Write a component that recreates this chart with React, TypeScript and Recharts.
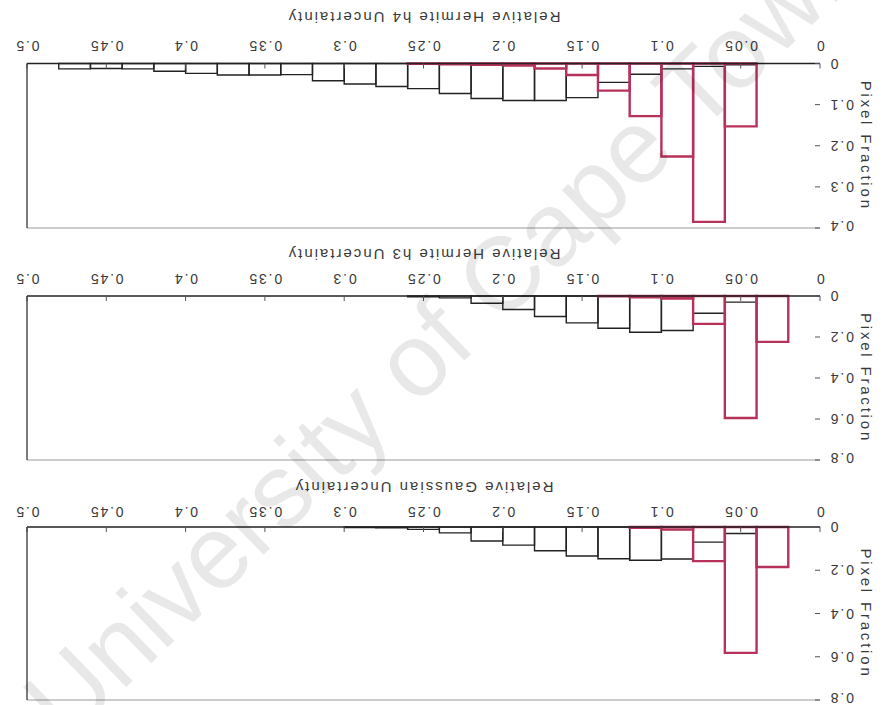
import React from 'react';
import { ComposedChart, XAxis, YAxis, ReferenceArea } from 'recharts';

// left edge of every 0.02-wide histogram bin
const binStarts = [
  0.02, 0.04, 0.06, 0.08, 0.1, 0.12, 0.14, 0.16, 0.18, 0.2, 0.22, 0.24,
  0.26, 0.28, 0.3, 0.32, 0.34, 0.36, 0.38, 0.4, 0.42, 0.44, 0.46,
];
const BIN = 0.02;

// pixel fractions per bin (black = first method, red = second method)
const gaussBlack = [
  0, 0.03, 0.07, 0.148, 0.154, 0.147, 0.134, 0.11, 0.084, 0.065, 0.027, 0.011,
  0.004, 0.002, 0, 0, 0, 0, 0, 0, 0, 0, 0,
];
const gaussRed = [
  0.185, 0.582, 0.158, 0.012, 0.004, 0, 0, 0, 0, 0, 0, 0,
  0, 0, 0, 0, 0, 0, 0, 0, 0, 0, 0,
];
const h3Black = [
  0, 0.03, 0.084, 0.168, 0.177, 0.157, 0.131, 0.1, 0.066, 0.035, 0.009, 0.004,
  0, 0, 0, 0, 0, 0, 0, 0, 0, 0, 0,
];
const h3Red = [
  0.224, 0.595, 0.136, 0.012, 0.006, 0.002, 0, 0, 0, 0, 0, 0,
  0, 0, 0, 0, 0, 0, 0, 0, 0, 0, 0,
];
const h4Black = [
  0, 0.003, 0.007, 0.013, 0.026, 0.046, 0.083, 0.09, 0.09, 0.085, 0.073, 0.061,
  0.056, 0.05, 0.042, 0.027, 0.028, 0.028, 0.024, 0.019, 0.013, 0.012, 0.013,
];
const h4Red = [
  0, 0.153, 0.385, 0.226, 0.128, 0.066, 0.028, 0.012, 0.005, 0.003, 0.002, 0.001,
  0, 0, 0, 0, 0, 0, 0, 0, 0, 0, 0,
];

const xTicks = [0, 0.05, 0.1, 0.15, 0.2, 0.25, 0.3, 0.35, 0.4, 0.45, 0.5];
const yTicksSmall = [0, 0.1, 0.2, 0.3, 0.4];
const yTicksLarge = [0, 0.2, 0.4, 0.6, 0.8];

const W = 884;
const H = 705;
const LEFT = 64;
const RIGHT_GAP = 27;
const PAD_TOP = 6;
const AXIS_H = 60;
const FONT = '"Liberation Sans", Arial, sans-serif';
const BLACK = '#222';
const RED = '#b8315a';

const tickText = { fontSize: 14, fill: '#3a3a3a', fontFamily: FONT, letterSpacing: 1.8 };

interface PanelProps {
  top: number;
  plotH: number;
  yMax: number;
  yTicks: number[];
  black: number[];
  red: number[];
  title: string;
  tickGap: number;
  titleGap: number;
}

const Panel: React.FC<PanelProps> = ({ top, plotH, yMax, yTicks, black, red, title, tickGap, titleGap }) => {
  const rows = binStarts.map((x0, i) => ({ x: x0 + BIN / 2, black: black[i], red: red[i] }));
  return (
    <div style={{ position: 'absolute', left: 0, top: top - PAD_TOP }}>
      <ComposedChart
        width={W}
        height={PAD_TOP + plotH + AXIS_H}
        data={rows}
        margin={{ top: PAD_TOP - 1, right: RIGHT_GAP - 1, bottom: 0, left: 0 }}
      >
        <XAxis
          dataKey="x"
          type="number"
          domain={[0, 0.5]}
          ticks={xTicks}
          allowDataOverflow
          height={AXIS_H}
          tickSize={-5}
          tickMargin={tickGap}
          axisLine={{ stroke: BLACK, strokeWidth: 1.3 }}
          tickLine={{ stroke: '#555' }}
          tick={tickText}
          label={{
            value: title,
            position: 'insideBottom',
            offset: 54.6 - titleGap,
            fill: '#3a3a3a',
            fontSize: 15,
            fontFamily: FONT,
            style: { letterSpacing: 2 },
          }}
        />
        {/* frame along the top, ticks pointing inward */}
        <XAxis
          xAxisId="top"
          orientation="top"
          type="number"
          domain={[0, 0.5]}
          ticks={xTicks}
          allowDataOverflow
          height={1}
          tickSize={-4}
          tick={false}
          axisLine={{ stroke: '#999' }}
          tickLine={{ stroke: '#888' }}
        />
        <YAxis
          type="number"
          domain={[0, yMax]}
          ticks={yTicks}
          allowDataOverflow
          width={LEFT}
          tickSize={-5}
          tickMargin={14}
          axisLine={false}
          tickLine={{ stroke: '#555' }}
          tick={tickText}
          label={{
            value: 'Pixel Fraction',
            angle: -90,
            position: 'insideLeft',
            offset: 18,
            fill: '#3a3a3a',
            fontSize: 15,
            fontFamily: FONT,
            style: { textAnchor: 'middle', letterSpacing: 2.8 },
          }}
        />
        {/* frame on the right */}
        <YAxis
          yAxisId="right"
          orientation="right"
          type="number"
          domain={[0, yMax]}
          ticks={yTicks}
          allowDataOverflow
          width={1}
          tickSize={-4}
          tick={false}
          axisLine={{ stroke: '#333', strokeWidth: 1.3 }}
          tickLine={{ stroke: '#777' }}
        />
        {binStarts.map((x0, i) =>
          black[i] > 0 ? (
            <ReferenceArea
              key={`b${i}`}
              x1={x0}
              x2={x0 + BIN}
              y1={0}
              y2={black[i]}
              fill="none"
              stroke={BLACK}
              strokeWidth={1.4}
              ifOverflow="visible"
            />
          ) : null
        )}
        {binStarts.map((x0, i) =>
          red[i] > 0 ? (
            <ReferenceArea
              key={`r${i}`}
              x1={x0}
              x2={x0 + BIN}
              y1={0}
              y2={red[i]}
              fill="none"
              stroke={RED}
              strokeWidth={2.4}
              ifOverflow="visible"
            />
          ) : null
        )}
      </ComposedChart>
    </div>
  );
};

export default function App() {
  return (
    <div style={{ position: 'fixed', left: 0, top: 0, width: W, height: H, background: '#fff', overflow: 'hidden' }}>
      {/* the scanned page is upside down */}
      <div style={{ position: 'absolute', left: 0, top: 0, width: W, height: H, transform: 'rotate(180deg)' }}>
        <Panel
          top={5}
          plotH={173}
          yMax={0.8}
          yTicks={yTicksLarge}
          black={gaussBlack}
          red={gaussRed}
          title="Relative Gaussian Uncertainty"
          tickGap={15}
          titleGap={40}
        />
        <Panel
          top={245}
          plotH={164}
          yMax={0.8}
          yTicks={yTicksLarge}
          black={h3Black}
          red={h3Red}
          title="Relative Hermite h3 Uncertainty"
          tickGap={17}
          titleGap={42}
        />
        <Panel
          top={477}
          plotH={164.5}
          yMax={0.4}
          yTicks={yTicksSmall}
          black={h4Black}
          red={h4Red}
          title="Relative Hermite h4 Uncertainty"
          tickGap={18}
          titleGap={46}
        />
      </div>
      <div
        style={{
          position: 'absolute',
          left: 445,
          top: 330,
          transform: 'translate(-50%, -50%) rotate(-44deg)',
          whiteSpace: 'nowrap',
          fontSize: 104,
          fontFamily: FONT,
          color: 'rgba(0, 0, 0, 0.09)',
          pointerEvents: 'none',
        }}
      >
        University of Cape Town
      </div>
    </div>
  );
}
